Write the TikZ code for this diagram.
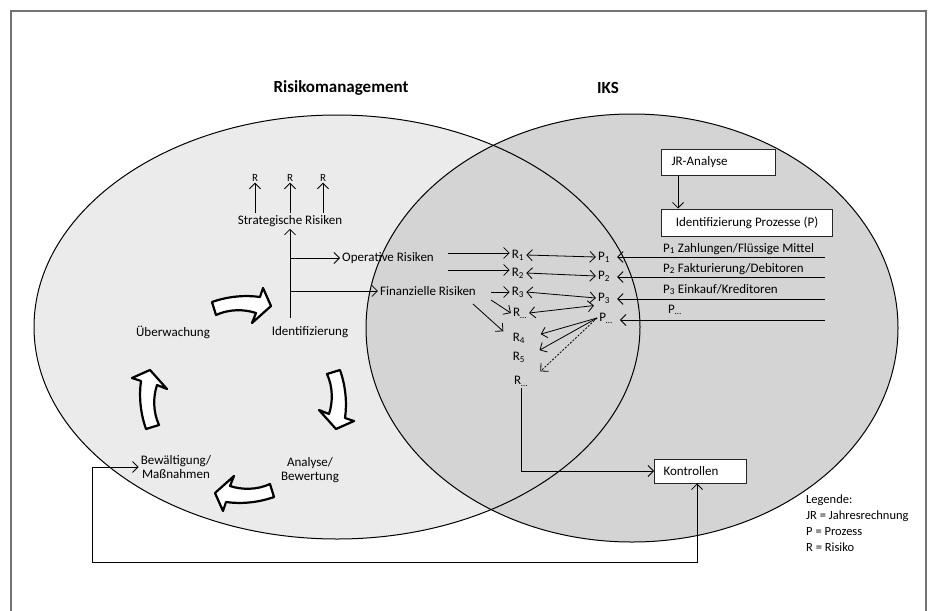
\documentclass[tikz,border=0pt]{standalone}
\usepackage{fontspec}
\setmainfont{Carlito}
\usetikzlibrary{arrows.meta,calc}
\definecolor{lgrey}{HTML}{EBEBEB}
\definecolor{dgrey}{HTML}{D4D4D4}
\newcommand\blockarr[3]{\draw[blk,shift={(#1,#2)},rotate=#3] (-29,-4) .. controls (-12,-10) and (5,-11) .. (19,-9) -- (22,-18) -- (30,0) -- (11,17) -- (15,7) .. controls (3,3) and (-12,3) .. (-25,9) -- cycle;}
\begin{document}
\begin{tikzpicture}[x=1pt,y=-1pt,
 every node/.style={font=\fontsize{13}{14}\selectfont, inner sep=2pt},
 arr/.style={draw=black, line width=0.8pt, -{Straight Barb[length=5.5pt,width=11pt]}},
 biarr/.style={draw=black, line width=0.8pt, {Straight Barb[length=5.5pt,width=11pt]}-{Straight Barb[length=5.5pt,width=11pt]}},
 box/.style={draw=black!85, line width=1pt, fill=white, minimum height=26pt},
 blk/.style={draw=black, fill=white, line width=2.2pt, line join=round},
 title/.style={font=\fontsize{17}{20}\selectfont\bfseries},
 small/.style={font=\fontsize{11}{13}\selectfont, inner sep=1pt},
]
\useasboundingbox (0,0) rectangle (928,610);
\draw[draw=black!55, line width=1.5pt] (11,614) -- (11,11) -- (926,11) -- (926,614);

% ellipses
\fill[lgrey] (337,327) ellipse [x radius=303, y radius=212];
\fill[dgrey] (632,328) ellipse [x radius=266, y radius=214];
\draw[line width=1pt] (337,327) ellipse [x radius=303, y radius=212];
\draw[line width=1pt] (632,328) ellipse [x radius=266, y radius=214];

% titles
\node[title] (t1) at (341,88) {Risikomanagement};
\node[title] (t2) at (608,88) {IKS};

% strategic risks
\node[small] (rs1) at (255,178) {R};
\node[small] (rs2) at (290,178) {R};
\node[small] (rs3) at (323,178) {R};
\node (strat) at (290,221) {Strategische Risiken};
\draw[arr] (strat.north -| rs1) -- (rs1.south);
\draw[arr] (strat.north -| rs2) -- (rs2.south);
\draw[arr] (strat.north -| rs3) -- (rs3.south);

\coordinate (trunk) at (290,318);
\coordinate (br1) at (290,258);
\coordinate (br2) at (290,291);
\draw[arr] (trunk) -- (strat.south);
\node (op) at (388,258) {Operative Risiken};
\node (fin) at (428,291) {Finanzielle Risiken};
\draw[arr] (br1) -- (op.west);
\draw[arr] (br2) -- (fin.west);

% R nodes
\node (r1) at (518,255) {R\textsubscript{1}};
\node (r2) at (518,273) {R\textsubscript{2}};
\node (r3) at (518,292) {R\textsubscript{3}};
\node (rd1) at (520,313) {R\textsubscript{…}};
\node (r4) at (519,338) {R\textsubscript{4}};
\node (r5) at (519,357) {R\textsubscript{5}};
\node (rd2) at (521,381) {R\textsubscript{…}};

% P nodes
\node (p1) at (604,257) {P\textsubscript{1}};
\node (p2) at (604,276) {P\textsubscript{2}};
\node (p3) at (604,298) {P\textsubscript{3}};
\node (pd) at (606,318) {P\textsubscript{…}};

% operative / financial to R
\coordinate (o1) at (448,253);
\coordinate (o2) at (448,270);
\draw[arr] (o1) -- (o1 -| r1.west);
\draw[arr] (o2) -- (o2 -| r2.west);
\coordinate (f1) at (491,292);
\coordinate (f2) at (491,300);
\coordinate (f3) at (473,304);
\draw[arr] (f1) -- (f1 -| r3.west);
\draw[arr] (f2) -- (rd1.west);
\draw[arr, shorten >=10pt] (f3) -- (r4.west);

% R <-> P
\draw[biarr] (r1.east) -- (p1.west);
\draw[biarr] (r2.east) -- (p2.west);
\draw[biarr] (r3.east) -- (p3.west);
\draw[biarr, shorten >=2pt] (rd1.east) -- (p3.south west);
\draw[arr, shorten >=14pt] (pd.west) -- (r4.east);
\draw[arr, shorten >=14pt] (pd.west) -- (r5.east);
\draw[arr, shorten >=14pt, dash pattern=on 2pt off 1.5pt] (pd.west) -- (rd2.east);

% process lines
\coordinate (q1) at (825,257);
\coordinate (q2) at (825,277);
\coordinate (q3) at (825,299);
\coordinate (q4) at (825,320);
\draw[arr, shorten >=5pt] (q1) -- (q1 -| p1.east);
\draw[arr, shorten >=5pt] (q2) -- (q2 -| p2.east);
\draw[arr, shorten >=5pt] (q3) -- (q3 -| p3.east);
\draw[arr, shorten >=5pt] (q4) -- (q4 -| pd.east);
\node[anchor=base west] (l1) at (661,252) {P\textsubscript{1} Zahlungen/Flüssige Mittel};
\node[anchor=base west] (l2) at (661,272) {P\textsubscript{2} Fakturierung/Debitoren};
\node[anchor=base west] (l3) at (661,293) {P\textsubscript{3} Einkauf/Kreditoren};
\node[anchor=base west] (l4) at (666,313) {P\textsubscript{…}};

% boxes
\node[box, anchor=west, text width=94pt, inner xsep=10pt, align=left] (jr) at (661,162) {JR-Analyse};
\node[box, anchor=west, minimum width=171pt, minimum height=27pt] (idbox) at (661,222.5) {Identifizierung Prozesse (P)};
\draw[arr] ([xshift=17pt]jr.south west) -- ([xshift=17pt]idbox.north west);
\node[box, anchor=west, text width=74pt, inner xsep=9pt, align=left, minimum height=24pt] (kon) at (654,471) {Kontrollen};

% cycle
\node (ueb) at (173,332) {Überwachung};
\node (idt) at (310,332) {Identifizierung};
\node[align=center] (bew) at (176,467) {Bewältigung/\\Maßnahmen};
\node[align=center] (ana) at (310,470) {Analyse/\\Bewertung};
\blockarr{241}{306}{0}
\blockarr{336}{399}{-90}
\blockarr{245}{493}{180}
\blockarr{150}{400}{90}

% controls
\draw[arr] (rd2.south) |- (kon.west);
\coordinate (fbL) at (92,562);
\draw[biarr] ([xshift=43pt]kon.south west) |- (fbL) |- (bew.west);

% legend
\node[anchor=north west, align=left, font=\fontsize{12.5}{16}\selectfont] (leg) at (804,493) {Legende:\\JR = Jahresrechnung\\P = Prozess\\R = Risiko};
\end{tikzpicture}
\end{document}
